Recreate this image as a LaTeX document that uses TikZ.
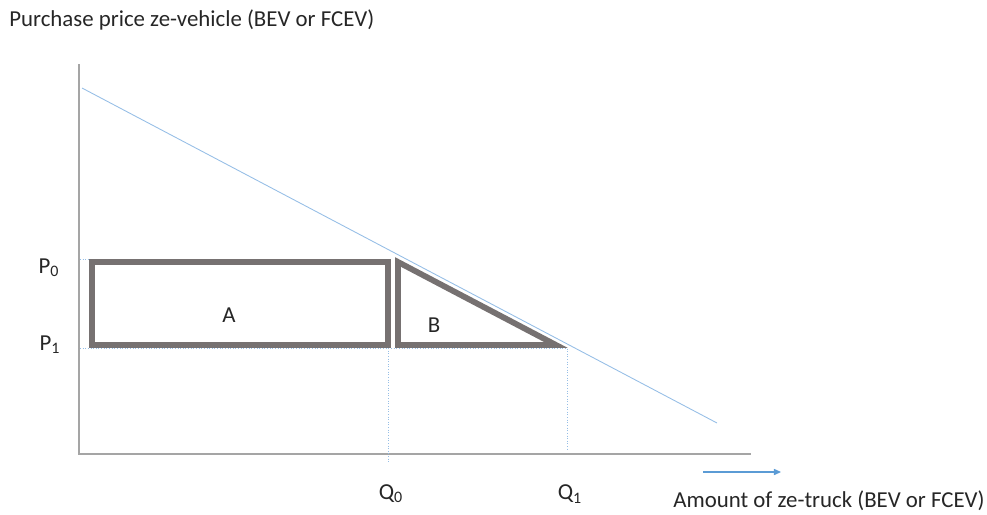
\documentclass[tikz,border=0pt]{standalone}
\usepackage{fontspec}
\setmainfont{Carlito}
\usetikzlibrary{arrows.meta,positioning}

\definecolor{axisgray}{RGB}{165,165,165}
\definecolor{boxgray}{RGB}{118,113,113}
\definecolor{demandblue}{RGB}{150,190,230}
\definecolor{arrowblue}{RGB}{91,155,213}

\begin{document}
\begin{tikzpicture}[
      x=0.02cm, y=-0.02cm,
      every node/.style={font=\fontsize{13}{15}\selectfont, text=black!85, inner sep=0pt},
      axis/.style={draw=axisgray, line width=0.8pt},
      demand/.style={draw=demandblue, line width=0.5pt},
      guide/.style={draw=demandblue, line width=0.5pt, densely dotted},
      area/.style={draw=boxgray, line width=3.3pt, line join=miter}
    ]
      \useasboundingbox (0,0) rectangle (987,514);

      % axes
      \coordinate (origin) at (79,454);
      \coordinate (ytop) at (79,64);
      \coordinate (xend) at (751,454);
      \draw[axis] (ytop) -- (origin) -- (xend);

      % demand line
      \coordinate (dstart) at (82,88);
      \coordinate (dend) at (717,423);
      \draw[demand] (dstart) -- (dend);

      % guide lines
      \coordinate (p0left) at (80,259);
      \coordinate (p0right) at (388,259);
      \coordinate (p1left) at (80,348);
      \coordinate (q0top) at (388,348);
      \coordinate (q0low) at (388,463);
      \coordinate (q1top) at (567,348);
      \coordinate (q1low) at (567,450);
      \draw[guide] (p0left) -- (p0right);
      \draw[guide] (p1left) -- (q1top) -- (q1low);
      \draw[guide] (q0top) -- (q0low);

      % areas A and B
      \draw[area] (92,262) rectangle (388,345);
      \draw[area] (398,262) -- (398,345) -- (556,345) -- cycle;
      \node (labelA) at (229,315) {A};
      \node (labelB) at (434,325) {B};

      % labels
      \node[anchor=west] (title) at (9,20) {Purchase price ze-vehicle (BEV or FCEV)};
      \node (p0) at (49,268) {P\textsubscript{0}};
      \node (p1) at (50,345) {P\textsubscript{1}};
      \node (q0) at (391,494) {Q\textsubscript{0}};
      \node (q1) at (570,494) {Q\textsubscript{1}};
      \node[anchor=east] (xlabel) at (985,501) {Amount of ze-truck (BEV or FCEV)};

      % direction arrow
      \coordinate (arrowstart) at (703,472);
      \coordinate (arrowend) at (781,472);
      \draw[arrowblue, line width=0.6pt, -{Triangle[length=4pt,width=3.5pt]}] (arrowstart) -- (arrowend);
    \end{tikzpicture}
\end{document}
